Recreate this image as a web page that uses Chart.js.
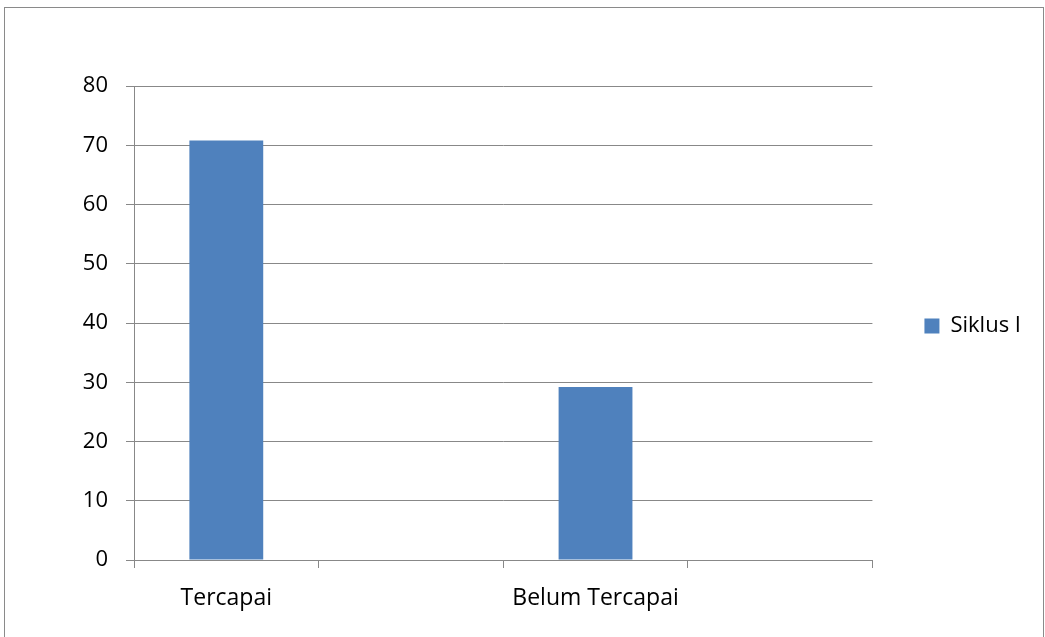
<!DOCTYPE html>
<html>
<head>
<meta charset="utf-8">
<script src="https://cdn.jsdelivr.net/npm/chart.js@4/dist/chart.umd.min.js"></script>
<style>
  html, body { margin: 0; padding: 0; background: #fff; }
  #wrap { position: relative; width: 1045px; height: 637px; overflow: hidden; }
  #frame { position: absolute; left: 4px; top: 7px; width: 1040px; height: 700px;
           border: 1px solid #8a8a8a; box-sizing: border-box; }
  canvas { position: absolute; left: 0; top: 0; }
</style>
</head>
<body>
<div id="wrap">
  <div id="frame"></div>
  <canvas id="c" width="1045" height="637"></canvas>
</div>
<script>
const categories = ['Tercapai', '', 'Belum Tercapai', ''];
const seriesName = 'Siklus I';
const seriesValues = [70.8, null, 29.2, null];
const yTicks = [0, 10, 20, 30, 40, 50, 60, 70, 80];

const FONT = "'Open Sans', 'Noto Sans', sans-serif";

new Chart(document.getElementById('c'), {
  type: 'bar',
  data: {
    labels: categories,
    datasets: [{
      label: seriesName,
      data: seriesValues,
      backgroundColor: '#4F81BD',
      borderWidth: 0,
      categoryPercentage: 1.0,
      barPercentage: 0.4
    }]
  },
  options: {
    responsive: false,
    animation: false,
    devicePixelRatio: 1,
    layout: { padding: { left: 0, top: 86, right: 14, bottom: 0 } },
    plugins: {
      legend: {
        position: 'right',
        align: 'start',
        title: { display: true, text: ' ', font: { size: 10 }, padding: { top: 0, bottom: 165 } },
        labels: {
          boxWidth: 15, boxHeight: 15, padding: 52,
          color: '#000',
          font: { family: FONT, size: 22 }
        }
      },
      tooltip: { enabled: false }
    },
    scales: {
      x: {
        grid: { offset: true, drawOnChartArea: false, drawTicks: true, tickLength: 8, color: '#888' },
        border: { color: '#888', width: 1 },
        ticks: { autoSkip: false, maxRotation: 0, padding: 17, color: '#000', font: { family: FONT, size: 23 } },
        afterFit: (s) => { s.height = 77; }
      },
      y: {
        min: 0, max: 80,
        afterBuildTicks: (s) => { s.ticks = yTicks.map(v => ({ value: v })); },
        grid: { color: '#888', tickLength: 8 },
        border: { color: '#888', width: 1 },
        ticks: { padding: 18, color: '#000', font: { family: FONT, size: 22 } },
        afterFit: (s) => { s.width = 134; }
      }
    }
  }
});
</script>
</body>
</html>
